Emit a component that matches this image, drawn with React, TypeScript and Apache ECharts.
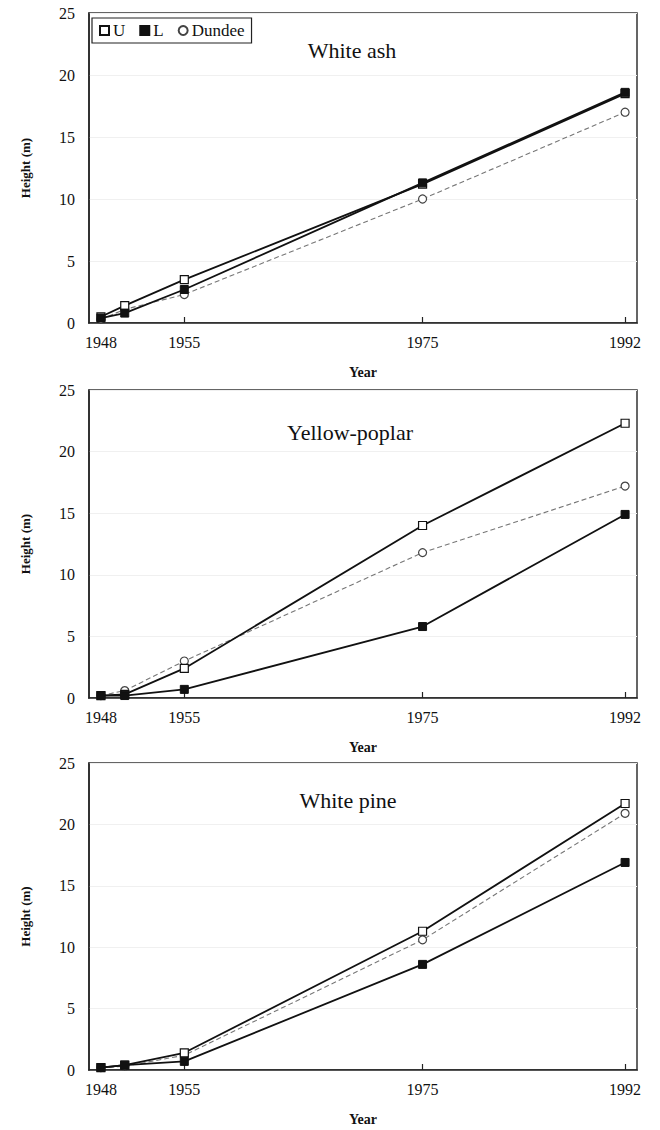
import React, { useEffect, useRef } from "react";
import * as echarts from "echarts";

const years = [1948, 1950, 1955, 1975, 1992];
const xTicks = [1948, 1955, 1975, 1992];
const panelTitles = ["White ash", "Yellow-poplar", "White pine"];
const seriesNames = ["U", "L", "Dundee"];

// White ash
const ashU = [0.5, 1.4, 3.5, 11.2, 18.5];
const ashL = [0.4, 0.8, 2.7, 11.3, 18.6];
const ashD = [0.3, 1.1, 2.3, 10.0, 17.0];
// Yellow-poplar
const poplarU = [0.2, 0.3, 2.4, 14.0, 22.3];
const poplarL = [0.2, 0.2, 0.7, 5.8, 14.9];
const poplarD = [0.2, 0.6, 3.0, 11.8, 17.2];
// White pine
const pineU = [0.2, 0.4, 1.4, 11.3, 21.7];
const pineL = [0.2, 0.4, 0.7, 8.6, 16.9];
const pineD = [0.2, 0.3, 1.2, 10.6, 20.9];

const panels = [
  [ashU, ashL, ashD],
  [poplarU, poplarL, poplarD],
  [pineU, pineL, pineD],
];

const FONT = "Liberation Serif";
const grids = [
  { top: 13, height: 310 },
  { top: 390, height: 308 },
  { top: 763, height: 307 },
];
const titlePos = [
  { x: 352, y: 50 },
  { x: 350, y: 432 },
  { x: 348, y: 800 },
];

export default function App() {
  const ref = useRef<HTMLDivElement>(null);
  useEffect(() => {
    document.body.style.margin = "0";
    const chart = echarts.init(ref.current!, null, { renderer: "svg" });
    const pair = (arr: number[]) => years.map((y, i) => [y, arr[i]]);
    const series: any[] = [];
    panels.forEach((p, gi) => {
      const [u, l, d] = p;
      series.push({
        name: seriesNames[0],
        type: "line",
        xAxisIndex: gi,
        yAxisIndex: gi,
        data: pair(u),
        symbol: "rect",
        symbolSize: 8,
        lineStyle: { color: "#111", width: 1.8 },
        itemStyle: { color: "#fff", borderColor: "#111", borderWidth: 1.2 },
        z: 3,
      });
      series.push({
        name: seriesNames[1],
        type: "line",
        xAxisIndex: gi,
        yAxisIndex: gi,
        data: pair(l),
        symbol: "rect",
        symbolSize: 8,
        lineStyle: { color: "#111", width: 1.8 },
        itemStyle: { color: "#111", borderColor: "#111", borderWidth: 1 },
        z: 4,
      });
      series.push({
        name: seriesNames[2],
        type: "line",
        xAxisIndex: gi,
        yAxisIndex: gi,
        data: pair(d),
        symbol: "circle",
        symbolSize: 8,
        lineStyle: { color: "#777", width: 1.1, type: [5, 3] },
        itemStyle: { color: "#fff", borderColor: "#444", borderWidth: 1.2 },
        z: 2,
      });
    });

    chart.setOption({
      animation: false,
      backgroundColor: "#fff",
      textStyle: { fontFamily: FONT },
      grid: grids.map((g) => ({
        left: 89,
        right: 23,
        top: g.top,
        height: g.height,
        show: true,
        borderColor: "#333",
        borderWidth: 1.5,
        backgroundColor: "transparent",
      })),
      legend: {
        data: [
          { name: "U", icon: "rect" },
          { name: "L", icon: "rect" },
          { name: "Dundee", icon: "circle" },
        ],
        left: 92,
        top: 18,
        orient: "horizontal",
        itemWidth: 9,
        itemHeight: 9,
        itemGap: 14,
        padding: [4, 7, 4, 7],
        borderColor: "#222",
        borderWidth: 1.2,
        textStyle: { fontFamily: FONT, fontSize: 17, color: "#111", padding: [0, 0, 0, -1] },
      },
      graphic: panelTitles.map((t, i) => ({
        type: "text",
        x: titlePos[i].x,
        y: titlePos[i].y,
        style: {
          text: t,
          fontFamily: FONT,
          fontSize: 22,
          fill: "#111",
          textAlign: "center",
          textVerticalAlign: "middle",
        },
      })),
      xAxis: grids.map((_, i) => ({
        type: "value",
        gridIndex: i,
        min: 1947,
        max: 1993,
        name: "Year",
        nameLocation: "middle",
        nameGap: 42,
        nameTextStyle: { fontFamily: FONT, fontSize: 14, fontWeight: "bold", color: "#111" },
        axisLine: { show: true, onZero: false, lineStyle: { color: "#222", width: 1.5 } },
        axisTick: { show: true, inside: true, length: 6, customValues: xTicks, lineStyle: { color: "#222", width: 1.2 } },
        axisLabel: {
          customValues: xTicks,
          margin: 11,
          fontFamily: FONT,
          fontSize: 16,
          color: "#111",
          formatter: (v: number) => String(v),
        },
        splitLine: { show: false },
      })),
      yAxis: grids.map((_, i) => ({
        type: "value",
        gridIndex: i,
        min: 0,
        max: 25,
        interval: 5,
        name: "Height (m)",
        nameLocation: "middle",
        nameGap: 57,
        nameTextStyle: { fontFamily: FONT, fontSize: 13, fontWeight: "bold", color: "#111" },
        axisLine: { show: true, lineStyle: { color: "#222", width: 1.5 } },
        axisTick: { show: false },
        axisLabel: { margin: 14, fontFamily: FONT, fontSize: 16, color: "#111" },
        splitLine: { show: true, lineStyle: { color: "#f0f0f0", width: 1 } },
      })),
      series,
    });
    return () => chart.dispose();
  }, []);
  return <div ref={ref} style={{ width: 660, height: 1130 }} />;
}
